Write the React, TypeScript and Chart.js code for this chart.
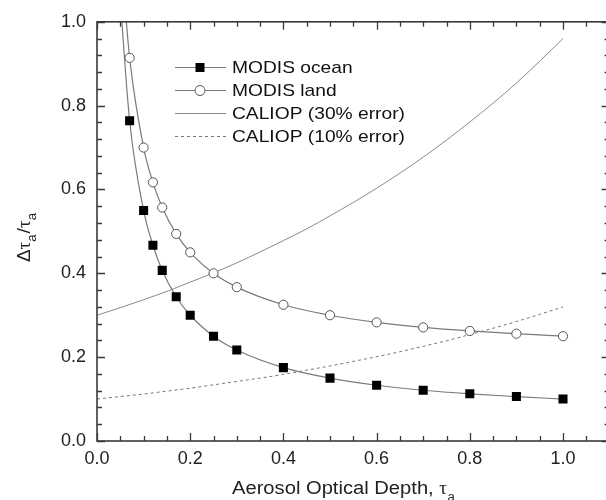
import React, { useEffect, useRef } from "react";
import { Chart, registerables } from "chart.js";
Chart.register(...registerables);

// MODIS ocean (first point lies above the frame, only its line is visible)
const oceanTau = [0.05, 0.07, 0.1, 0.12, 0.14, 0.17, 0.2, 0.25, 0.3, 0.4, 0.5, 0.6, 0.7, 0.8, 0.9, 1.0];
const oceanErr = [1.05, 0.764, 0.55, 0.467, 0.407, 0.344, 0.3, 0.25, 0.217, 0.175, 0.15, 0.133, 0.121, 0.1125, 0.106, 0.1];
// MODIS land
const landTau = [0.055, 0.07, 0.1, 0.12, 0.14, 0.17, 0.2, 0.25, 0.3, 0.4, 0.5, 0.6, 0.7, 0.8, 0.9, 1.0];
const landErr = [1.109, 0.914, 0.7, 0.617, 0.557, 0.494, 0.45, 0.4, 0.367, 0.325, 0.3, 0.283, 0.271, 0.2625, 0.256, 0.25];
// CALIOP curves
const caliopTau = [0, 0.05, 0.1, 0.15, 0.2, 0.25, 0.3, 0.35, 0.4, 0.45, 0.5, 0.55, 0.6, 0.65, 0.7, 0.75, 0.8, 0.85, 0.9, 0.95, 1.0];
const caliop30 = [0.3, 0.318, 0.337, 0.357, 0.379, 0.401, 0.425, 0.451, 0.478, 0.506, 0.537, 0.569, 0.603, 0.639, 0.677, 0.718, 0.761, 0.806, 0.854, 0.906, 0.96];
const caliop10 = [0.1, 0.106, 0.112, 0.119, 0.126, 0.134, 0.142, 0.15, 0.159, 0.169, 0.179, 0.19, 0.201, 0.213, 0.226, 0.239, 0.254, 0.269, 0.285, 0.302, 0.32];

const xTickLabels = [0, 0.2, 0.4, 0.6, 0.8, 1.0];
const yTickLabels = [0, 0.2, 0.4, 0.6, 0.8, 1.0];
const legendLabels = ["MODIS ocean", "MODIS land", "CALIOP (30% error)", "CALIOP (10% error)"];

const SANS = "'Liberation Sans', Arial, sans-serif";
const SERIF = "'Liberation Serif', 'Times New Roman', serif";
const FRAME = "#3a3a3a";
const LINE = "#7a7a7a";

function stretchText(ctx: CanvasRenderingContext2D, text: string, x: number, y: number, font: string, sx: number, color = "#111") {
  ctx.save();
  ctx.font = font;
  ctx.fillStyle = color;
  ctx.textAlign = "left";
  ctx.textBaseline = "alphabetic";
  ctx.translate(x, y);
  ctx.scale(sx, 1);
  ctx.fillText(text, 0, 0);
  const w = ctx.measureText(text).width * sx;
  ctx.restore();
  return w;
}

const decorPlugin = {
  id: "decor",
  afterDraw(chart: any) {
    const ctx: CanvasRenderingContext2D = chart.ctx;
    const { left, right, top, bottom } = chart.chartArea;
    const xs = chart.scales.x;
    const ys = chart.scales.y;
    ctx.save();
    // frame
    ctx.strokeStyle = FRAME;
    ctx.lineWidth = 1.6;
    ctx.strokeRect(left, top, right - left, bottom - top);
    // ticks
    ctx.lineWidth = 1.3;
    ctx.beginPath();
    for (let i = 0; i <= 22; i++) {
      const v = i * 0.05;
      const px = Math.round(xs.getPixelForValue(v)) + 0.5;
      const len = i % 4 === 0 ? 8 : 5;
      ctx.moveTo(px, bottom);
      ctx.lineTo(px, bottom - len);
      ctx.moveTo(px, top);
      ctx.lineTo(px, top + len);
    }
    for (let i = 0; i <= 25; i++) {
      const v = i * 0.04;
      const py = Math.round(ys.getPixelForValue(v)) + 0.5;
      const len = i % 5 === 0 ? 8 : 5;
      ctx.moveTo(left, py);
      ctx.lineTo(left + len, py);
      ctx.moveTo(right, py);
      ctx.lineTo(right - len, py);
    }
    ctx.stroke();

    // legend
    const ly = [67, 90, 113, 136];
    legendLabels.forEach((lab, i) => {
      const y = ly[i];
      ctx.save();
      ctx.lineWidth = 1;
      ctx.strokeStyle = i < 2 ? LINE : i === 2 ? "#8a8a8a" : "#777";
      if (i === 3) ctx.setLineDash([3, 3]);
      ctx.beginPath();
      ctx.moveTo(175, y + 0.5);
      ctx.lineTo(226, y + 0.5);
      ctx.stroke();
      ctx.setLineDash([]);
      if (i === 0) {
        ctx.fillStyle = "#000";
        ctx.fillRect(195.5, y - 4, 9, 9);
      } else if (i === 1) {
        ctx.fillStyle = "#fff";
        ctx.strokeStyle = "#555";
        ctx.beginPath();
        ctx.arc(200, y + 0.5, 5, 0, Math.PI * 2);
        ctx.fill();
        ctx.stroke();
      }
      ctx.restore();
      stretchText(ctx, lab, 232, y + 6, `17px ${SANS}`, 1.13, "#111");
    });

    // x title
    let w = stretchText(ctx, "Aerosol Optical Depth, ", 232, 494, `18px ${SANS}`, 1.12, "#222");
    let w2 = stretchText(ctx, "τ", 232 + w, 494, `19px ${SERIF}`, 1.0, "#222");
    stretchText(ctx, "a", 232 + w + w2 + 0.5, 501, `12px ${SANS}`, 1.1, "#222");

    // y title (rotated)
    ctx.save();
    ctx.translate(30, 262);
    ctx.rotate(-Math.PI / 2);
    let x0 = 0;
    x0 += stretchText(ctx, "Δ", x0, 0, `18px ${SANS}`, 1.05, "#222");
    x0 += stretchText(ctx, "τ", x0, 0, `19px ${SERIF}`, 1.0, "#222");
    x0 += stretchText(ctx, "a", x0, 6, `12px ${SANS}`, 1.1, "#222");
    x0 += stretchText(ctx, "/", x0 + 1, 0, `18px ${SANS}`, 1.1, "#222") + 1;
    x0 += stretchText(ctx, "τ", x0, 0, `19px ${SERIF}`, 1.0, "#222");
    stretchText(ctx, "a", x0, 6, `12px ${SANS}`, 1.1, "#222");
    ctx.restore();

    ctx.restore();
  },
};

export default function App() {
  const ref = useRef<HTMLCanvasElement>(null);
  useEffect(() => {
    document.documentElement.style.overflow = "hidden";
    document.body.style.overflow = "hidden";
    document.body.style.margin = "0";
    const canvas = ref.current!;
    const chart = new Chart(canvas, {
      type: "line",
      data: {
        datasets: [
          {
            label: legendLabels[0],
            data: oceanTau.map((t, i) => ({ x: t, y: oceanErr[i] })),
            borderColor: LINE,
            borderWidth: 1.2,
            pointStyle: "rect",
            pointRadius: oceanTau.map((_, i) => (i === 0 ? 0 : 6.4)),
            pointBackgroundColor: "#000",
            pointBorderColor: "#000",
            pointBorderWidth: 0,
            cubicInterpolationMode: "monotone",
          },
          {
            label: legendLabels[1],
            data: landTau.map((t, i) => ({ x: t, y: landErr[i] })),
            borderColor: LINE,
            borderWidth: 1.2,
            pointStyle: "circle",
            pointRadius: landTau.map((_, i) => (i === 0 ? 0 : 4.6)),
            pointBackgroundColor: "#fff",
            pointBorderColor: "#555",
            pointBorderWidth: 1,
            cubicInterpolationMode: "monotone",
          },
          {
            label: legendLabels[2],
            data: caliopTau.map((t, i) => ({ x: t, y: caliop30[i] })),
            borderColor: "#8a8a8a",
            borderWidth: 1,
            pointRadius: 0,
            cubicInterpolationMode: "monotone",
          },
          {
            label: legendLabels[3],
            data: caliopTau.map((t, i) => ({ x: t, y: caliop10[i] })),
            borderColor: "#777",
            borderWidth: 1,
            borderDash: [3, 3],
            pointRadius: 0,
            cubicInterpolationMode: "monotone",
          },
        ],
      } as any,
      options: {
        animation: false,
        responsive: false,
        devicePixelRatio: 1,
        layout: { padding: { top: 21, right: 4, left: 0, bottom: 0 } },
        plugins: { legend: { display: false }, tooltip: { enabled: false } },
        scales: {
          x: {
            type: "linear",
            min: 0,
            max: 1.1,
            grid: { display: false, drawTicks: false },
            border: { display: false },
            afterBuildTicks: (s: any) => {
              s.ticks = xTickLabels.map((v) => ({ value: v }));
            },
            afterFit: (s: any) => {
              s.height = 59;
            },
            ticks: {
              padding: 7,
              color: "#222",
              font: { family: SANS, size: 18 },
              maxRotation: 0,
              callback: (v: any) => Number(v).toFixed(1),
            },
          },
          y: {
            type: "linear",
            min: 0,
            max: 1.0,
            grid: { display: false, drawTicks: false },
            border: { display: false },
            afterBuildTicks: (s: any) => {
              s.ticks = yTickLabels.map((v) => ({ value: v }));
            },
            afterFit: (s: any) => {
              s.width = 97;
            },
            ticks: {
              padding: 11,
              color: "#222",
              font: { family: SANS, size: 18 },
              callback: (v: any) => Number(v).toFixed(1),
            },
          },
        },
      } as any,
      plugins: [decorPlugin],
    });
    return () => chart.destroy();
  }, []);
  return (
    <div style={{ position: "absolute", left: 0, top: 0, width: 616, height: 500, background: "#fff" }}>
      <canvas ref={ref} width={616} height={500} style={{ width: 616, height: 500, display: "block" }} />
    </div>
  );
}
